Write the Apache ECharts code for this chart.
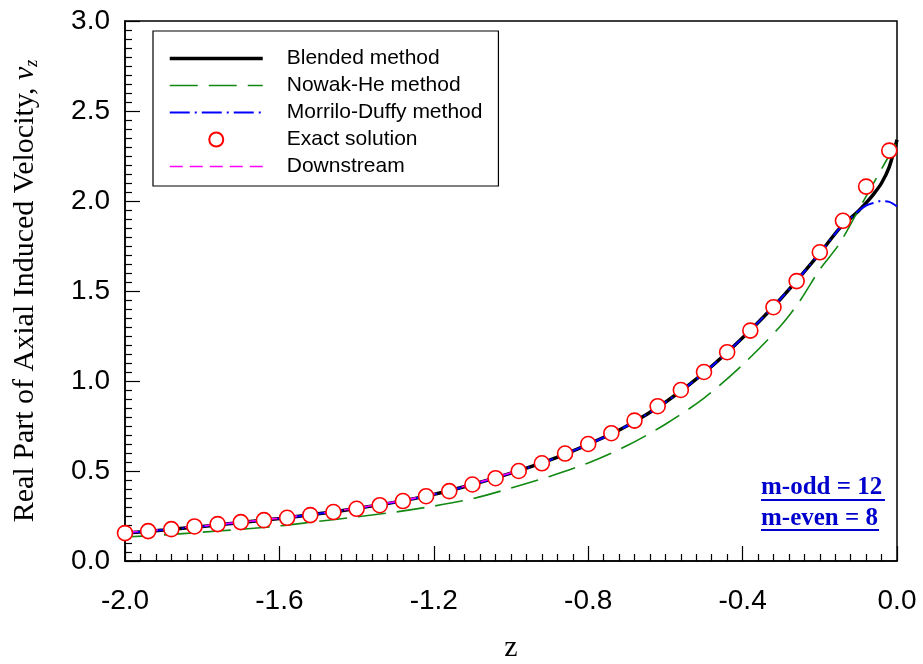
<!DOCTYPE html>
<html>
<head>
<meta charset="utf-8">
<script src="https://cdn.jsdelivr.net/npm/echarts@6/dist/echarts.min.js"></script>
<style>html,body{margin:0;padding:0;background:#fff;}#c{width:923px;height:664px;}</style>
</head>
<body>
<div id="c"></div>
<script>
// Blended method
const blendedZ = [-2.0,-1.9,-1.8,-1.7,-1.6,-1.5,-1.4,-1.3,-1.2,-1.1,-1.0,-0.9,-0.8,-0.7,-0.6,-0.5,-0.4,-0.3,-0.2,-0.15,-0.12,-0.1,-0.08,-0.06,-0.04,-0.02,0.0];
const blendedV = [0.155,0.172,0.192,0.214,0.236,0.262,0.292,0.327,0.37,0.425,0.488,0.56,0.648,0.75,0.882,1.045,1.24,1.46,1.71,1.845,1.905,1.945,1.99,2.04,2.10,2.19,2.34];
// Nowak-He method
const nowakZ = [-2.0,-1.9,-1.8,-1.7,-1.6,-1.5,-1.4,-1.3,-1.2,-1.1,-1.0,-0.9,-0.8,-0.7,-0.6,-0.5,-0.4,-0.3,-0.25,-0.2,-0.15,-0.1,-0.05,0.0];
const nowakV = [0.133,0.145,0.16,0.176,0.195,0.22,0.245,0.272,0.305,0.346,0.405,0.47,0.545,0.64,0.76,0.905,1.09,1.31,1.45,1.62,1.76,1.95,2.14,2.33];
// Morrilo-Duffy method
const morriloZ = [-2.0,-1.9,-1.8,-1.7,-1.6,-1.5,-1.4,-1.3,-1.2,-1.1,-1.0,-0.9,-0.8,-0.7,-0.6,-0.5,-0.4,-0.3,-0.2,-0.15,-0.12,-0.1,-0.08,-0.06,-0.04,-0.02,0.0];
const morriloV = [0.155,0.172,0.192,0.214,0.236,0.262,0.292,0.327,0.37,0.425,0.488,0.56,0.648,0.75,0.882,1.045,1.24,1.46,1.71,1.845,1.905,1.945,1.975,1.99,2.0,1.995,1.97];
// Exact solution
const exactZ = [-2.0,-1.94,-1.88,-1.82,-1.76,-1.70,-1.64,-1.58,-1.52,-1.46,-1.40,-1.34,-1.28,-1.22,-1.16,-1.10,-1.04,-0.98,-0.92,-0.86,-0.80,-0.74,-0.68,-0.62,-0.56,-0.50,-0.44,-0.38,-0.32,-0.26,-0.20,-0.14,-0.08,-0.02];
const exactV = [0.155,0.166,0.177,0.192,0.205,0.216,0.227,0.24,0.255,0.272,0.29,0.31,0.333,0.36,0.388,0.425,0.46,0.50,0.543,0.597,0.65,0.71,0.78,0.86,0.95,1.05,1.16,1.28,1.41,1.555,1.715,1.89,2.08,2.28];
// Downstream
const downZ = [-2.0,-1.9,-1.8,-1.7,-1.6,-1.5,-1.4,-1.3,-1.2,-1.1,-1.0];
const downV = [0.158,0.175,0.195,0.216,0.238,0.264,0.294,0.329,0.372,0.427,0.49];

const xTicks = {min: -2.0, max: 0.0, interval: 0.4};
const yTicks = {min: 0.0, max: 3.0, interval: 0.5};

const zip = (a, b) => a.map((x, i) => [x, b[i]]);

const chart = echarts.init(document.getElementById('c'), null, {renderer: 'canvas'});
const axisCommon = {
  axisLine: {show: true, onZero: false, lineStyle: {color: '#000', width: 1.5}},
  axisTick: {show: true, inside: true, length: 15, lineStyle: {color: '#000', width: 1.2}},
  minorTick: {show: true, splitNumber: 10, length: 7, lineStyle: {color: '#000', width: 1.2}},
  splitLine: {show: false},
  minorSplitLine: {show: false}
};
const hideSym = {color: 'transparent', borderColor: 'transparent', borderWidth: 0, opacity: 0};
chart.setOption({
  animation: false,
  backgroundColor: '#fff',
  grid: {left: 125, right: 26, top: 21, bottom: 103, outerBoundsMode: 'none', containLabel: false,
         show: true, borderColor: '#000', borderWidth: 1.5, backgroundColor: 'transparent'},
  legend: {
    orient: 'vertical', left: 153, top: 31,
    backgroundColor: '#fff', borderColor: '#000', borderWidth: 1.2, borderRadius: 0,
    padding: [17, 16, 9, 15],
    itemWidth: 93, itemHeight: 14, itemGap: 6,
    textStyle: {fontFamily: 'Liberation Sans, Arial', fontSize: 21, color: '#000', padding: [0, 0, 0, 19], lineHeight: 21},
    data: [
      {name: 'Blended method', itemStyle: hideSym, lineStyle: {width: 3.5}},
      {name: 'Nowak-He method', itemStyle: hideSym, lineStyle: {width: 1.6}},
      {name: 'Morrilo-Duffy method', itemStyle: hideSym, lineStyle: {width: 2}},
      {name: 'Exact solution'},
      {name: 'Downstream', itemStyle: hideSym, lineStyle: {width: 1.6}}
    ]
  },
  xAxis: Object.assign({
    type: 'value', min: xTicks.min, max: xTicks.max, interval: xTicks.interval,
    name: 'z', nameLocation: 'middle', nameGap: 72,
    nameTextStyle: {fontFamily: 'Liberation Serif, Times New Roman', fontSize: 30, color: '#000'},
    axisLabel: {fontFamily: 'Liberation Sans, Arial', fontSize: 28, color: '#000', margin: 26, formatter: v => v.toFixed(1)}
  }, axisCommon),
  yAxis: Object.assign({
    type: 'value', min: yTicks.min, max: yTicks.max, interval: yTicks.interval,
    name: '{a|Real Part of Axial Induced Velocity, }{v|v}{s|z}',
    nameLocation: 'middle', nameGap: 84,
    nameTextStyle: {
      color: '#000',
      rich: {
        a: {fontFamily: 'Liberation Serif, Times New Roman', fontSize: 30, color: '#000'},
        v: {fontFamily: 'Liberation Serif, Times New Roman', fontSize: 30, fontStyle: 'italic', color: '#000'},
        s: {fontFamily: 'Liberation Serif, Times New Roman', fontSize: 18, fontStyle: 'italic', color: '#000', verticalAlign: 'bottom', padding: [14, 0, 0, 0]}
      }
    },
    axisLabel: {fontFamily: 'Liberation Sans, Arial', fontSize: 28, color: '#000', margin: 15, formatter: v => v.toFixed(1)}
  }, axisCommon),
  series: [
    {name: 'Blended method', type: 'line', data: zip(blendedZ, blendedV), symbol: 'none', smooth: 0.3, z: 2,
     color: '#000', lineStyle: {color: '#000', width: 3.5, type: 'solid'}},
    {name: 'Nowak-He method', type: 'line', data: zip(nowakZ, nowakV), symbol: 'none', smooth: 0.3, z: 3,
     color: '#118811', lineStyle: {color: '#118811', width: 1.6, type: [28, 11]}},
    {name: 'Morrilo-Duffy method', type: 'line', data: zip(morriloZ, morriloV), symbol: 'none', smooth: 0.3, z: 4,
     color: '#0000ff', lineStyle: {color: '#0000ff', width: 2, type: [20, 5, 2, 5]}},
    {name: 'Exact solution', type: 'scatter', data: zip(exactZ, exactV), symbol: 'circle', symbolSize: 15, z: 6,
     color: '#fff', itemStyle: {color: '#fff', borderColor: '#ff0000', borderWidth: 1.6, opacity: 1}},
    {name: 'Downstream', type: 'line', data: zip(downZ, downV), symbol: 'none', smooth: 0.3, z: 5,
     color: '#ff00ff', lineStyle: {color: '#ff00ff', width: 1.6, type: [13, 7]}}
  ],
  graphic: [
    {type: 'text', left: 761, top: 475, style: {text: 'm-odd = 12', font: 'bold 25px "Liberation Serif", "Times New Roman"', fill: '#0000cc'}},
    {type: 'rect', left: 761, top: 499, shape: {width: 124, height: 2}, style: {fill: '#0000cc'}},
    {type: 'text', left: 761, top: 506, style: {text: 'm-even = 8', font: 'bold 25px "Liberation Serif", "Times New Roman"', fill: '#0000cc'}},
    {type: 'rect', left: 761, top: 529, shape: {width: 118, height: 2}, style: {fill: '#0000cc'}}
  ]
});
</script>
</body>
</html>
